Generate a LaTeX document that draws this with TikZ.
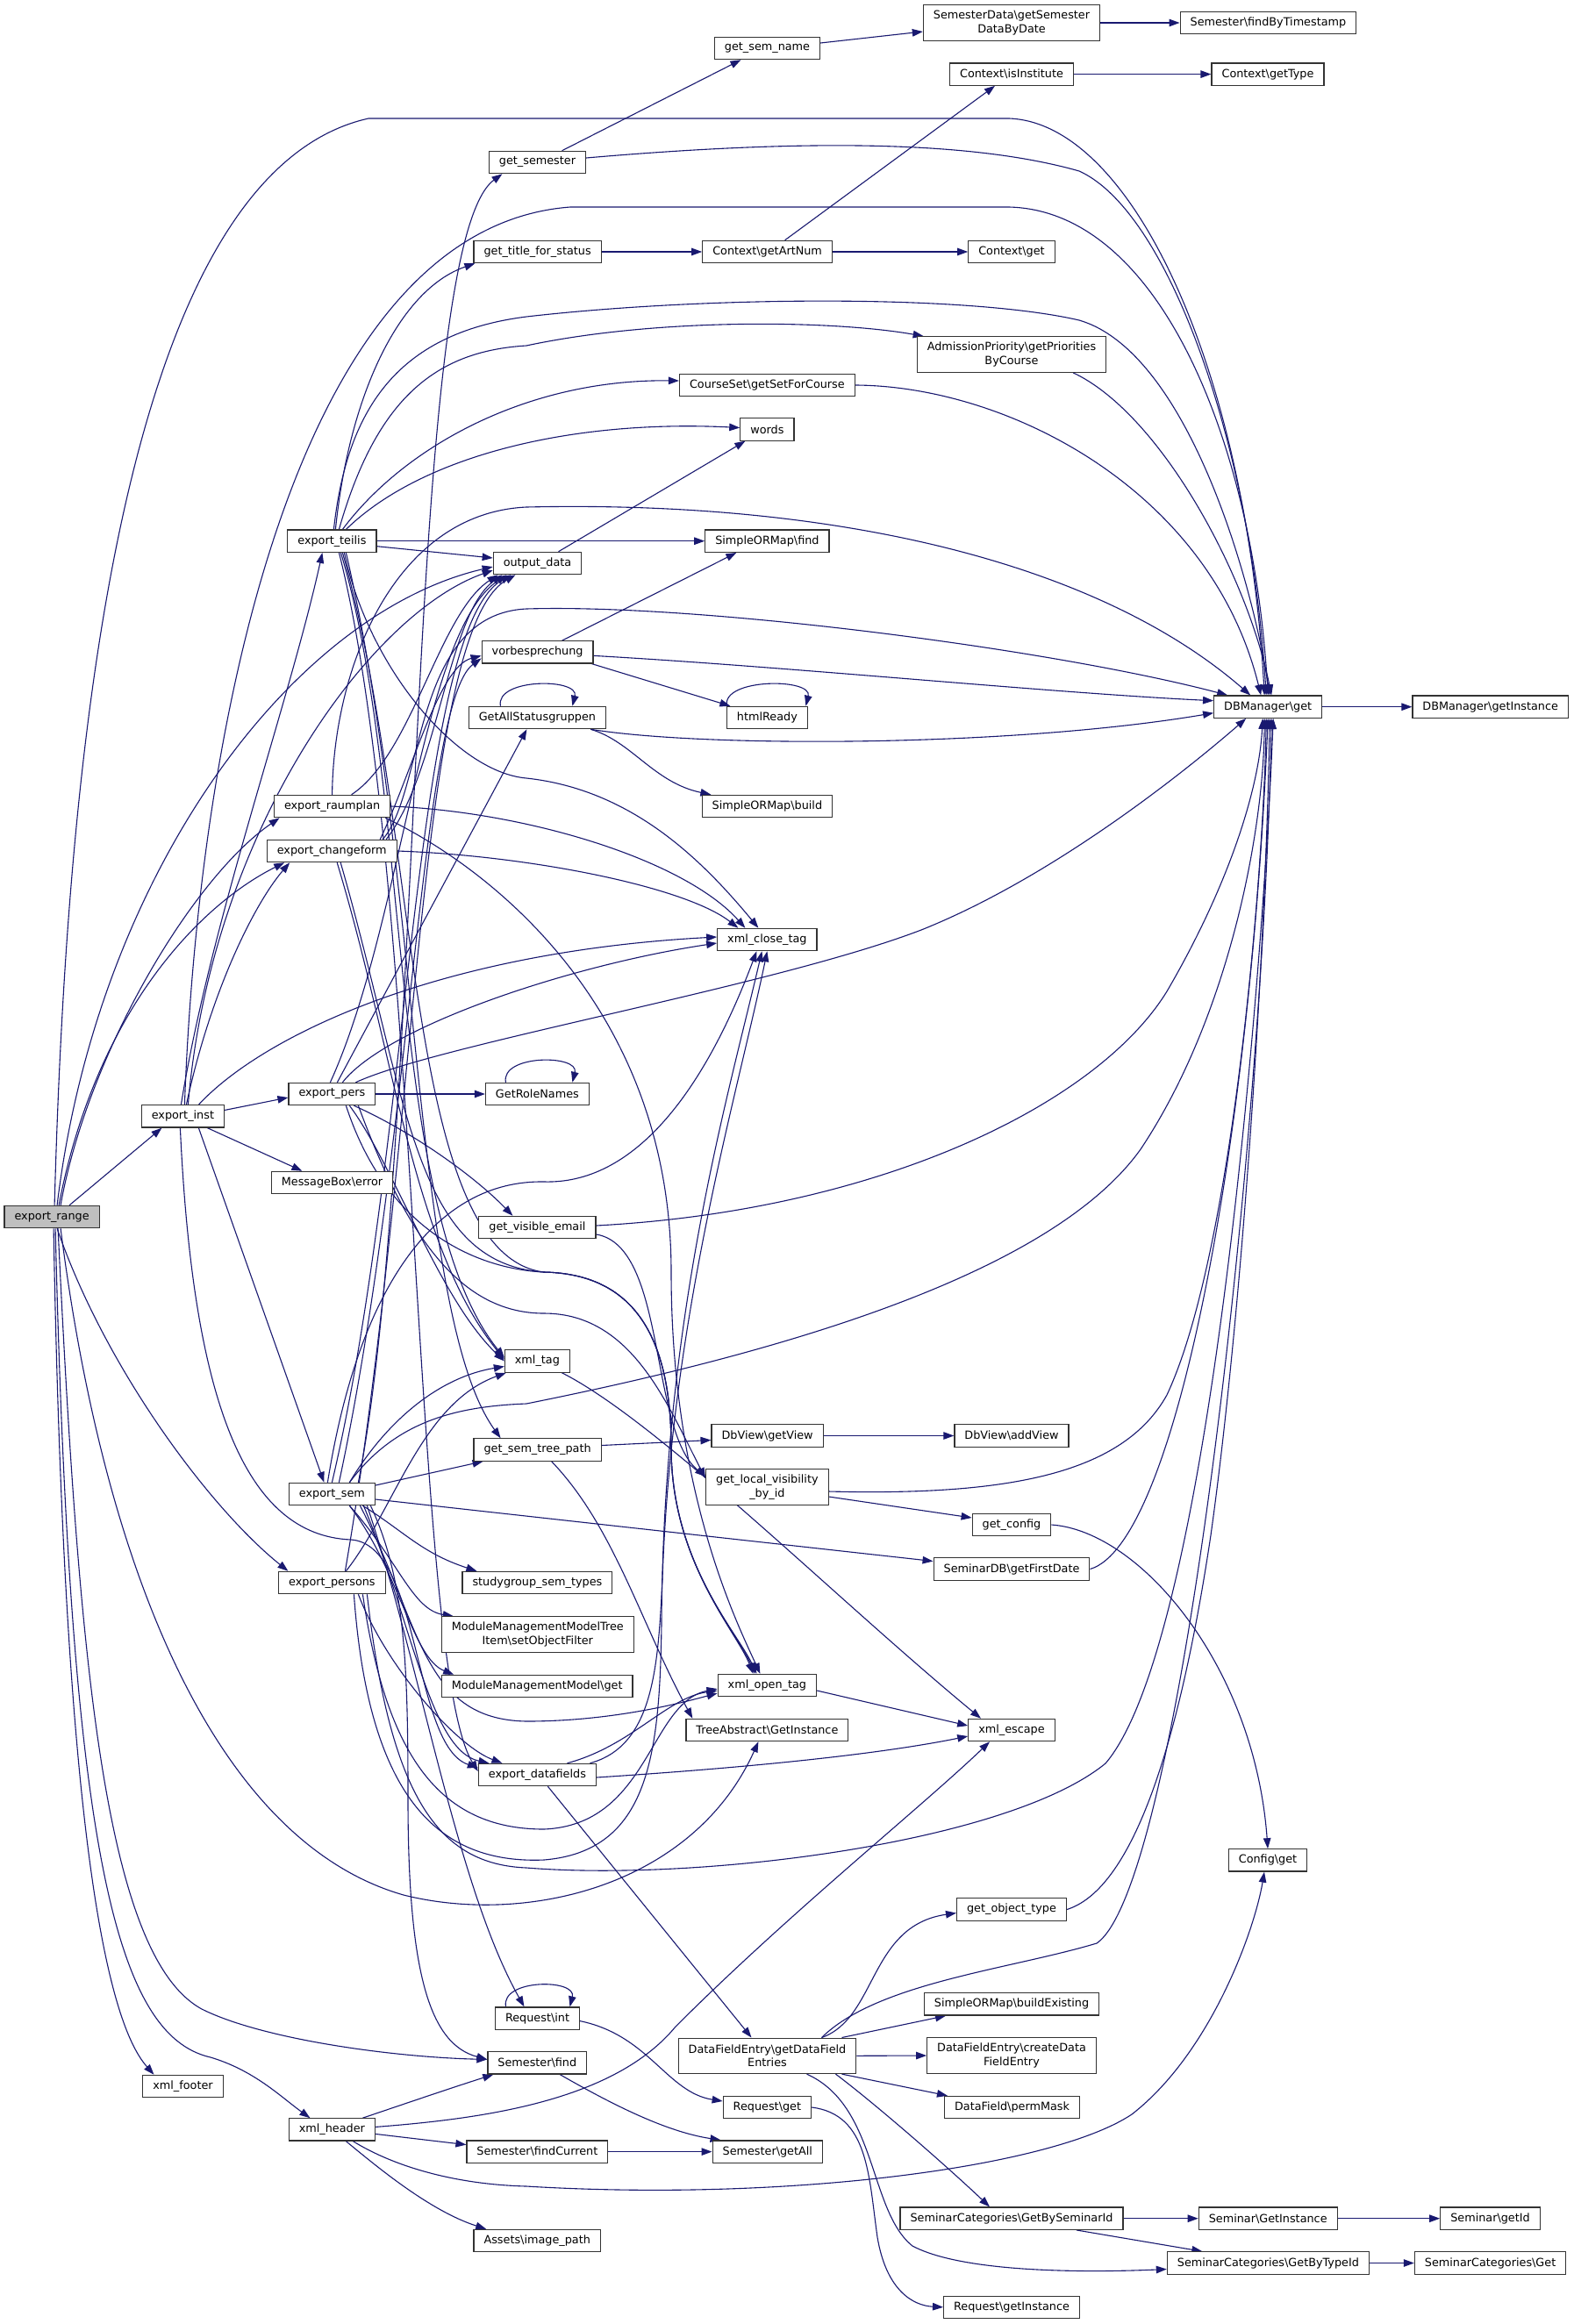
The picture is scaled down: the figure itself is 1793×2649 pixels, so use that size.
\documentclass[tikz,border=0pt]{standalone}
\usepackage{fontspec}
\setmainfont{DejaVu Sans}
\usetikzlibrary{arrows.meta}
\definecolor{edgec}{HTML}{191970}
\definecolor{boxc}{HTML}{333333}
\definecolor{rootc}{HTML}{BFBFBF}
\newcommand\dgfont{\fontsize{12.8}{15.4}\selectfont}
\newcommand\bs{\textbackslash{}}
\pgfdeclarelayer{edgelayer}
\pgfsetlayers{edgelayer,main}
\begin{document}
\begin{tikzpicture}[x=1pt,y=-1pt,
  box/.style={draw=boxc, line width=1.2pt, fill=white, inner xsep=11.5pt, inner ysep=0pt, minimum height=25.3pt, align=center, font=\dgfont},
  boxtwo/.style={box, minimum height=40.4pt},
  e/.style={draw=edgec, line width=1.1pt, -{Triangle[length=12pt,width=8.5pt]}}]
\useasboundingbox (0,0) rectangle (1793,2649);
% ---------- nodes ----------
\node[box, fill=rootc] (R) at (59.1,1387) {export\_range};
\node[box] (INST) at (208.4,1272.4) {export\_inst};
\node[box] (FOOT) at (208.5,2378) {xml\_footer};
\node[box] (HEAD) at (378.4,2427.4) {xml\_header};
\node[box] (TEIL) at (378.4,616.7) {export\_teilis};
\node[box] (RAUM) at (378.6,919) {export\_raumplan};
\node[box] (CHG) at (378.2,970) {export\_changeform};
\node[box] (PERS) at (378.4,1247) {export\_pers};
\node[box] (MSG) at (378.5,1348) {MessageBox\bs error};
\node[box] (SEM) at (378.4,1703) {export\_sem};
\node[box] (PERSONS) at (378.4,1804) {export\_persons};
\node[box] (GSEM) at (612.5,185) {get\_semester};
\node[box] (GTFS) at (612.6,287) {get\_title\_for\_status};
\node[box] (OUT) at (612.5,642) {output\_data};
\node[box] (VOR) at (612.6,743.4) {vorbesprechung};
\node[box] (GASG) at (612.4,818) {GetAllStatusgruppen};
\node[box] (GRN) at (612.4,1247) {GetRoleNames};
\node[box] (GVE) at (612.4,1399) {get\_visible\_email};
\node[box] (XTAG) at (612.4,1551.5) {xml\_tag};
\node[box] (GSTP) at (612.6,1652.5) {get\_sem\_tree\_path};
\node[box] (SGST) at (612.4,1804) {studygroup\_sem\_types};
\node[boxtwo] (MMTI) at (612.8,1863) {ModuleManagementModelTree\\Item\bs setObjectFilter};
\node[box] (MMG) at (612.2,1922) {ModuleManagementModel\bs get};
\node[box] (EDF) at (612.4,2023) {export\_datafields};
\node[box] (RINT) at (612.5,2300.6) {Request\bs int};
\node[box] (SFIND) at (612.3,2351.4) {Semester\bs find};
\node[box] (SCUR) at (612.4,2452.6) {Semester\bs findCurrent};
\node[box] (ASSET) at (612.2,2554) {Assets\bs image\_path};
\node[box] (GSN) at (874.5,55) {get\_sem\_name};
\node[box] (CGAN) at (874.6,287) {Context\bs getArtNum};
\node[box] (CSET) at (874.4,439) {CourseSet\bs getSetForCourse};
\node[box] (WORDS) at (874.4,489.5) {words};
\node[box] (SOMF) at (874.4,616.7) {SimpleORMap\bs find};
\node[box] (HTML) at (874.4,818) {htmlReady};
\node[box] (SOMB) at (874.4,919) {SimpleORMap\bs build};
\node[box] (XCLOSE) at (874.4,1071) {xml\_close\_tag};
\node[box] (DBVG) at (874.6,1636.5) {DbView\bs getView};
\node[boxtwo] (GLV) at (874.4,1695) {get\_local\_visibility\\\_by\_id};
\node[box] (XOPEN) at (874.4,1921) {xml\_open\_tag};
\node[box] (TREE) at (874.4,1972) {TreeAbstract\bs GetInstance};
\node[boxtwo] (DFE) at (874.5,2343.3) {DataFieldEntry\bs getDataField\\Entries};
\node[box] (RGET) at (874.4,2402) {Request\bs get};
\node[box] (SALL) at (874.8,2452.6) {Semester\bs getAll};
\node[boxtwo] (SDATA) at (1153,26) {SemesterData\bs getSemester\\DataByDate};
\node[box] (CISI) at (1153,84.6) {Context\bs isInstitute};
\node[box] (CGET) at (1153,287) {Context\bs get};
\node[boxtwo] (ADM) at (1153,404) {AdmissionPriority\bs getPriorities\\ByCourse};
\node[box] (DBVA) at (1153,1636.5) {DbView\bs addView};
\node[box] (GCFG) at (1153,1738) {get\_config};
\node[box] (SDB) at (1153,1788.5) {SeminarDB\bs getFirstDate};
\node[box] (XESC) at (1153,1972) {xml\_escape};
\node[box] (GOT) at (1153,2176.5) {get\_object\_type};
\node[box] (SOMBE) at (1153,2284.4) {SimpleORMap\bs buildExisting};
\node[boxtwo] (DFEC) at (1153,2343) {DataFieldEntry\bs createData\\FieldEntry};
\node[box] (PERM) at (1153.5,2402) {DataField\bs permMask};
\node[box] (SCBS) at (1153,2528.7) {SeminarCategories\bs GetBySeminarId};
\node[box] (RINS) at (1153,2629.8) {Request\bs getInstance};
\node[box] (SFBT) at (1445.4,26) {Semester\bs findByTimestamp};
\node[box] (CTYPE) at (1445,84.6) {Context\bs getType};
\node[box] (DBM) at (1445.2,805.7) {DBManager\bs get};
\node[box] (CFG) at (1445,2120.4) {Config\bs get};
\node[box] (SGI) at (1445.2,2528.7) {Seminar\bs GetInstance};
\node[box] (SCBT) at (1445.4,2579.5) {SeminarCategories\bs GetByTypeId};
\node[box] (DBMI) at (1698.7,805.7) {DBManager\bs getInstance};
\node[box] (SGID) at (1698.5,2528.7) {Seminar\bs getId};
\node[box] (SCG) at (1698.6,2579.5) {SeminarCategories\bs Get};
\begin{pgfonlayer}{edgelayer}
\fill[white] (0,0) rectangle (1793,2649);
% ---------- edges into DBManager\get ----------
\draw[e] ([xshift=3pt]R.north) .. controls (75,900) and (130,200) .. (420,135) -- (1150,135) .. controls (1290,140) and (1420,420) .. ([xshift=-4pt]DBM.north);
\draw[e] ([yshift=5pt]GSEM.east) .. controls (900,160) and (1100,158) .. (1230,195) .. controls (1330,240) and (1425,500) .. ([xshift=-2pt]DBM.north);
\draw[e] ([xshift=2pt]INST.north) .. controls (225,850) and (330,260) .. (650,236) -- (1150,236) .. controls (1320,240) and (1428,500) .. (DBM.north);
\draw[e] ([xshift=2pt]TEIL.north) .. controls (395,470) and (450,380) .. (600,361) .. controls (800,338) and (1100,335) .. (1230,365) .. controls (1350,400) and (1425,650) .. ([xshift=2pt]DBM.north);
\draw[e] ([xshift=70pt]ADM.south) .. controls (1320,470) and (1420,650) .. ([xshift=4pt]DBM.north);
\draw[e] (CSET.east) .. controls (1150,440) and (1380,560) .. ([xshift=-8pt]DBM.north);
\draw[e] (RAUM.north) .. controls (380,760) and (450,585) .. (600,578) .. controls (950,570) and (1250,640) .. ([xshift=-20pt]DBM.north);
\draw[e] ([xshift=58pt]CHG.north) .. controls (485,900) and (470,700) .. (600,694) .. controls (800,688) and (1200,740) .. ([xshift=-46pt]DBM.north);
\draw[e] ([yshift=-4pt]VOR.east) .. controls (900,760) and (1200,790) .. ([yshift=7pt]DBM.west);
\draw[e] ([xshift=-18pt]GASG.south east) .. controls (800,852) and (1150,852) .. ([yshift=-7pt]DBM.west);
\draw[e] ([xshift=27pt]PERS.north) .. controls (500,1190) and (880,1125) .. (1050,1060) .. controls (1200,1000) and (1350,880) .. ([xshift=-25pt]DBM.south);
\draw[e] ([yshift=2pt]GVE.east) .. controls (1000,1380) and (1250,1260) .. (1330,1130) .. controls (1400,1010) and (1435,900) .. ([xshift=-6pt]DBM.south);
\draw[e] ([yshift=-5pt]GLV.east) .. controls (1150,1705) and (1280,1680) .. (1330,1590) .. controls (1405,1430) and (1440,1000) .. ([xshift=-2pt]DBM.south);
\draw[e] (SDB.east) .. controls (1340,1760) and (1425,1300) .. (DBM.south);
\draw[e] (GOT.east) .. controls (1300,2150) and (1350,1950) .. (1380,1750) .. controls (1415,1500) and (1442,1100) .. ([xshift=2pt]DBM.south);
\draw[e] ([xshift=62pt]DFE.north) .. controls (1000,2260) and (1150,2245) .. (1250,2215) .. controls (1345,2150) and (1440,1300) .. ([xshift=4pt]DBM.south);
\draw[e] ([xshift=20pt]SEM.north) .. controls (450,1620) and (520,1603) .. (600,1600) .. controls (900,1540) and (1200,1450) .. (1300,1310) .. controls (1400,1160) and (1440,950) .. ([xshift=-4pt]DBM.south);
\draw[e] ([xshift=40pt]PERSONS.south) .. controls (445,2050) and (500,2125) .. (600,2129) .. controls (800,2145) and (1150,2100) .. (1260,2010) .. controls (1380,1870) and (1440,1100) .. ([xshift=6pt]DBM.south);
\draw[e] (DBM.east) -- (DBMI.west);
% ---------- top chains ----------
\draw[e] ([xshift=28pt]GSEM.north) -- ([xshift=-30pt]GSN.south);
\draw[e] ([yshift=6pt]GSN.east) -- ([yshift=-10pt]SDATA.west);
\draw[e] (SDATA.east) -- (SFBT.west);
\draw[e] (CISI.east) -- (CTYPE.west);
\draw[e] ([xshift=20pt]CGAN.north) -- ([xshift=-19pt]CISI.south);
\draw[e] (CGAN.east) -- (CGET.west);
\draw[e] (GTFS.east) -- (CGAN.west);
% ---------- export_teilis ----------
\draw[e] ([xshift=4pt]TEIL.north) .. controls (398,450) and (455,330) .. ([xshift=2pt]GTFS.south west);
\draw[e] ([xshift=8pt]TEIL.north) .. controls (430,450) and (500,400) .. (600,394) .. controls (750,362) and (950,365) .. ([xshift=8pt]ADM.north west);
\draw[e] ([xshift=12pt]TEIL.north) .. controls (460,510) and (600,432) .. ([yshift=5pt]CSET.west);
\draw[e] ([xshift=16pt]TEIL.north) .. controls (480,520) and (650,478) .. ([yshift=2pt]WORDS.west);
\draw[e] (TEIL.east) -- (SOMF.west);
\draw[e] ([yshift=-6pt]TEIL.east) -- ([yshift=6pt]OUT.west);
\draw[e] ([xshift=14pt]TEIL.south) .. controls (420,760) and (520,880) .. (600,887) .. controls (720,900) and (800,980) .. ([xshift=-10pt]XCLOSE.north);
\draw[e] ([xshift=10pt]TEIL.south) .. controls (470,900) and (440,1380) .. ([yshift=4pt]XTAG.west);
\draw[e] ([xshift=12pt]TEIL.south) .. controls (480,950) and (460,1430) .. (620,1450) .. controls (720,1452) and (765,1520) .. (765,1650) .. controls (765,1780) and (840,1860) .. ([xshift=-14pt]XOPEN.north);
\draw[e] ([xshift=8pt]TEIL.south) .. controls (480,1000) and (470,1900) .. ([yshift=4pt]EDF.west);
\draw[e] ([xshift=16pt]TEIL.south) .. controls (480,1000) and (470,1500) .. ([xshift=-42pt]GSTP.north);
% ---------- column 3 small ----------
\draw[e] ([xshift=24pt]OUT.north) -- ([xshift=-25pt]WORDS.south);
\draw[e] ([xshift=28pt]VOR.north) -- ([xshift=-35pt]SOMF.south);
\draw[e] ([xshift=-2pt]VOR.south east) -- ([xshift=-42pt]HTML.north);
\draw[e] ([xshift=-18pt]GASG.south east) .. controls (720,845) and (745,892) .. ([xshift=-64pt]SOMB.north);
\draw[e] ([xshift=-46pt]HTML.north) .. controls +(-6,-32) and +(8,-32) .. ([xshift=44pt]HTML.north);
\draw[e] ([xshift=-42pt]GASG.north) .. controls +(-6,-32) and +(8,-32) .. ([xshift=40pt]GASG.north);
\draw[e] ([xshift=-36pt]GRN.north) .. controls +(-6,-32) and +(8,-32) .. ([xshift=40pt]GRN.north);
\draw[e] ([xshift=-36pt]RINT.north) .. controls +(-6,-32) and +(8,-32) .. ([xshift=37pt]RINT.north);
% ---------- export_range ----------
\draw[e] ([xshift=20pt]R.north) -- ([xshift=-24pt]INST.south);
\draw[e] ([xshift=10pt]R.north) .. controls (100,1200) and (220,1000) .. ([xshift=-60pt]RAUM.south);
\draw[e] ([xshift=8pt]R.north) .. controls (110,1150) and (230,1030) .. ([xshift=-54pt]CHG.south);
\draw[e] ([xshift=6pt]R.north) .. controls (110,1000) and (330,700) .. ([yshift=-4pt]OUT.west);
\draw[e] ([xshift=6pt]R.south) .. controls (120,1560) and (240,1720) .. ([xshift=-50pt]PERSONS.north);
\draw[e] ([xshift=2pt]R.south) .. controls (70,1900) and (100,2280) .. ([xshift=-33pt]FOOT.north);
\draw[e] ([xshift=4pt]R.south) .. controls (80,2100) and (130,2320) .. (240,2345) .. controls (290,2360) and (320,2390) .. ([xshift=-25pt]HEAD.north);
\draw[e] ([xshift=7pt]R.south) .. controls (90,1900) and (120,2230) .. (230,2290) .. controls (300,2325) and (450,2345) .. ([yshift=4pt]SFIND.west);
\draw[e] ([xshift=10pt]R.south) .. controls (120,1800) and (250,2100) .. (460,2160) .. controls (600,2195) and (790,2150) .. ([xshift=-10pt]TREE.south);
% ---------- export_inst ----------
\draw[e] ([xshift=-2pt]INST.north) .. controls (240,1050) and (330,800) .. ([xshift=-11pt]TEIL.south);
\draw[e] ([xshift=4pt]INST.north) .. controls (240,1130) and (290,1030) .. ([xshift=-48pt]CHG.south);
\draw[e] ([yshift=7pt]INST.east) -- ([yshift=-4pt]PERS.west);
\draw[e] ([xshift=28pt]INST.south) -- ([xshift=-34pt]MSG.north);
\draw[e] ([xshift=18pt]INST.south) -- ([xshift=-9pt]SEM.north);
\draw[e] ([xshift=6pt]INST.north) .. controls (240,950) and (420,700) .. ([yshift=-8pt]OUT.west);
\draw[e] ([xshift=18pt]INST.north) .. controls (300,1180) and (500,1085) .. ([yshift=3pt]XCLOSE.west);
\draw[e] ([xshift=-3pt]INST.south) .. controls (220,1600) and (280,1750) .. (400,1755) .. controls (480,1760) and (470,1990) .. ([yshift=8pt]EDF.west);
% ---------- export_pers ----------
\draw[e] (PERS.east) -- (GRN.west);
\draw[e] ([xshift=6pt]PERS.north) -- ([xshift=-12pt]GASG.south);
\draw[e] ([xshift=25pt]PERS.south) .. controls (470,1290) and (540,1340) .. ([xshift=-28pt]GVE.north);
\draw[e] ([xshift=12pt]PERS.north) .. controls (440,1170) and (650,1100) .. ([yshift=-4pt]XCLOSE.west);
\draw[e] ([xshift=-2pt]PERS.north) .. controls (460,1050) and (480,720) .. ([xshift=-35pt]OUT.south);
\draw[e] ([xshift=20pt]PERS.south) .. controls (450,1330) and (500,1480) .. (XTAG.west);
\draw[e] ([xshift=30pt]PERS.south) .. controls (460,1400) and (520,1497) .. (620,1497) .. controls (720,1497) and (760,1600) .. ([yshift=10pt]GLV.west);
\draw[e] ([xshift=16pt]PERS.south) .. controls (440,1400) and (540,1446) .. (620,1450) .. controls (720,1452) and (765,1520) .. (765,1650) .. controls (765,1780) and (840,1860) .. ([xshift=-12pt]XOPEN.north);
% ---------- export_changeform / raumplan ----------
\draw[e] (CHG.east) .. controls (600,975) and (780,1010) .. ([xshift=-33pt]XCLOSE.north);
\draw[e] ([xshift=55pt]CHG.north) .. controls (470,880) and (500,760) .. ([yshift=-4pt]VOR.west);
\draw[e] ([xshift=62pt]CHG.north) .. controls (500,880) and (510,700) .. ([xshift=-40pt]OUT.south);
\draw[e] ([xshift=6pt]CHG.south) .. controls (450,1200) and (470,1420) .. ([yshift=2pt]XTAG.west);
\draw[e] ([xshift=10pt]CHG.south) .. controls (465,1250) and (470,1440) .. (620,1450) .. controls (720,1452) and (765,1520) .. (765,1650) .. controls (765,1780) and (840,1860) .. ([xshift=-16pt]XOPEN.north);
\draw[e] (RAUM.east) .. controls (600,925) and (780,980) .. ([xshift=-25pt]XCLOSE.north);
\draw[e] ([xshift=22pt]RAUM.north) .. controls (470,860) and (500,700) .. ([xshift=-45pt]OUT.south);
\draw[e] ([xshift=-6pt]RAUM.south east) .. controls (560,990) and (765,1150) .. (765,1450) .. controls (765,1700) and (840,1850) .. ([xshift=-8pt]XOPEN.north);
% ---------- export_sem ----------
\draw[e] ([xshift=30pt]SEM.north) .. controls (485,1300) and (460,280) .. ([xshift=-40pt]GSEM.south);
\draw[e] ([xshift=8pt]SEM.north) .. controls (470,1300) and (480,800) .. ([yshift=-7pt]VOR.west);
\draw[e] (SEM.north) .. controls (470,1300) and (470,720) .. ([xshift=-30pt]OUT.south);
\draw[e] ([xshift=20pt]SEM.north) .. controls (440,1620) and (500,1570) .. ([yshift=-6pt]XTAG.west);
\draw[e] ([xshift=-5pt]SEM.north) .. controls (410,1460) and (500,1345) .. (620,1347) .. controls (720,1350) and (800,1250) .. ([xshift=-12pt]XCLOSE.south);
\draw[e] ([yshift=10pt]SEM.east) -- ([xshift=-62pt]GSTP.south);
\draw[e] ([yshift=-6pt]SEM.east) -- ([yshift=9pt]SDB.west);
\draw[e] ([xshift=35pt]SEM.south) .. controls (460,1745) and (480,1770) .. ([xshift=-69pt]SGST.north);
\draw[e] ([xshift=20pt]SEM.south) .. controls (455,1780) and (470,1835) .. ([xshift=-96pt]MMTI.north);
\draw[e] ([xshift=20pt]SEM.south) .. controls (455,1790) and (470,1890) .. ([xshift=-95pt]MMG.north);
\draw[e] ([xshift=32pt]SEM.south) .. controls (480,1850) and (480,1960) .. (600,1962) .. controls (700,1962) and (780,1940) .. ([yshift=-9pt]XOPEN.west);
\draw[e] ([xshift=36pt]SEM.south) .. controls (470,1850) and (490,1995) .. ([xshift=-55pt]EDF.north);
\draw[e] ([xshift=40pt]SEM.south) .. controls (480,1900) and (520,2150) .. ([xshift=-15pt]RINT.north);
\draw[e] ([xshift=44pt]SEM.south) .. controls (462,1800) and (465,1900) .. (465,2050) .. controls (465,2250) and (490,2330) .. ([yshift=4pt]SFIND.west);
% ---------- export_persons ----------
\draw[e] ([xshift=15pt]PERSONS.north) .. controls (478,1300) and (475,720) .. ([xshift=-25pt]OUT.south);
\draw[e] ([xshift=16pt]PERSONS.north) .. controls (450,1720) and (480,1600) .. ([xshift=2pt]XTAG.south west);
\draw[e] ([xshift=35pt]PERSONS.south) .. controls (440,2000) and (500,2085) .. (620,2085) .. controls (740,2080) and (740,1940) .. ([yshift=-4pt]XOPEN.west);
\draw[e] ([xshift=30pt]PERSONS.south) .. controls (440,1900) and (520,1990) .. ([xshift=-40pt]EDF.north);
\draw[e] ([xshift=25pt]PERSONS.south) .. controls (420,2050) and (500,2125) .. (620,2120) .. controls (740,2110) and (752,2000) .. (754,1850) .. controls (756,1500) and (830,1250) .. ([xshift=-6pt]XCLOSE.south);
% ---------- export_datafields and below ----------
\draw[e] ([xshift=12pt]EDF.south) -- ([xshift=-18pt]DFE.north);
\draw[e] ([yshift=-3pt]EDF.east) .. controls (850,2015) and (1000,2000) .. ([yshift=-7pt]XESC.west);
\draw[e] ([xshift=34pt]EDF.north) .. controls (720,1990) and (760,1935) .. ([yshift=-6pt]XOPEN.west);
\draw[e] ([xshift=60pt]EDF.north) .. controls (745,1990) and (750,1900) .. (755,1800) .. controls (765,1500) and (840,1250) .. (XCLOSE.south);
\draw[e] ([xshift=28pt]XTAG.south) .. controls (750,1620) and (950,1820) .. ([xshift=-35pt]XESC.north);
\draw[e] ([yshift=-6pt]XOPEN.east) -- ([yshift=5pt]XESC.west);
\draw[e] ([yshift=5pt]GSTP.east) -- ([yshift=-5pt]DBVG.west);
\draw[e] ([xshift=16pt]GSTP.south) .. controls (700,1740) and (730,1850) .. ([xshift=8pt]TREE.north west);
\draw[e] (DBVG.east) -- (DBVA.west);
\draw[e] ([yshift=-8pt]GVE.east) .. controls (760,1420) and (740,1630) .. ([yshift=12pt]GLV.west);
\draw[e] ([yshift=-11pt]GLV.east) -- ([yshift=8pt]GCFG.west);
\draw[e] (GCFG.east) .. controls (1300,1745) and (1430,1900) .. (CFG.north);
% ---------- xml_header ----------
\draw[e] ([xshift=35pt]HEAD.north) .. controls (470,2395) and (520,2378) .. ([xshift=-50pt]SFIND.south);
\draw[e] ([yshift=-5pt]HEAD.east) -- ([yshift=8pt]SCUR.west);
\draw[e] ([xshift=16pt]HEAD.south) .. controls (430,2470) and (490,2520) .. ([xshift=-58pt]ASSET.north);
\draw[e] ([yshift=3pt]HEAD.east) .. controls (550,2415) and (700,2395) .. (770,2310) .. controls (900,2180) and (1050,2060) .. ([xshift=-25pt]XESC.south);
\draw[e] ([xshift=24pt]HEAD.south) .. controls (450,2470) and (520,2490) .. (600,2492) .. controls (900,2510) and (1200,2470) .. (1290,2410) .. controls (1380,2340) and (1430,2200) .. ([xshift=-4pt]CFG.south);
% ---------- semester / request ----------
\draw[e] ([xshift=26pt]SFIND.south) .. controls (700,2400) and (760,2430) .. ([xshift=10pt]SALL.north west);
\draw[e] (SCUR.east) -- (SALL.west);
\draw[e] ([yshift=-3pt]RINT.east) .. controls (740,2320) and (760,2385) .. ([yshift=7pt]RGET.west);
\draw[e] (RGET.east) .. controls (990,2410) and (990,2480) .. (1000,2550) .. controls (1010,2610) and (1040,2628) .. (RINS.west);
% ---------- DataFieldEntry ----------
\draw[e] ([xshift=62pt]DFE.north) .. controls (1000,2300) and (990,2195) .. ([yshift=-4pt]GOT.west);
\draw[e] ([xshift=85pt]DFE.north) -- ([xshift=-75pt]SOMBE.south);
\draw[e] (DFE.east) -- (DFEC.west);
\draw[e] ([xshift=85pt]DFE.south) -- ([xshift=4pt]PERM.north west);
\draw[e] ([xshift=78pt]DFE.south) .. controls (1000,2400) and (1080,2470) .. ([xshift=-25pt]SCBS.north);
\draw[e] ([xshift=45pt]DFE.south) .. controls (1000,2400) and (990,2520) .. (1040,2560) .. controls (1100,2592) and (1250,2590) .. ([yshift=-7pt]SCBT.west);
\draw[e] (SCBS.east) -- (SGI.west);
\draw[e] ([xshift=74pt]SCBS.south) -- ([xshift=-75pt]SCBT.north);
\draw[e] (SGI.east) -- (SGID.west);
\draw[e] (SCBT.east) -- (SCG.west);
\end{pgfonlayer}
\end{tikzpicture}
\end{document}
